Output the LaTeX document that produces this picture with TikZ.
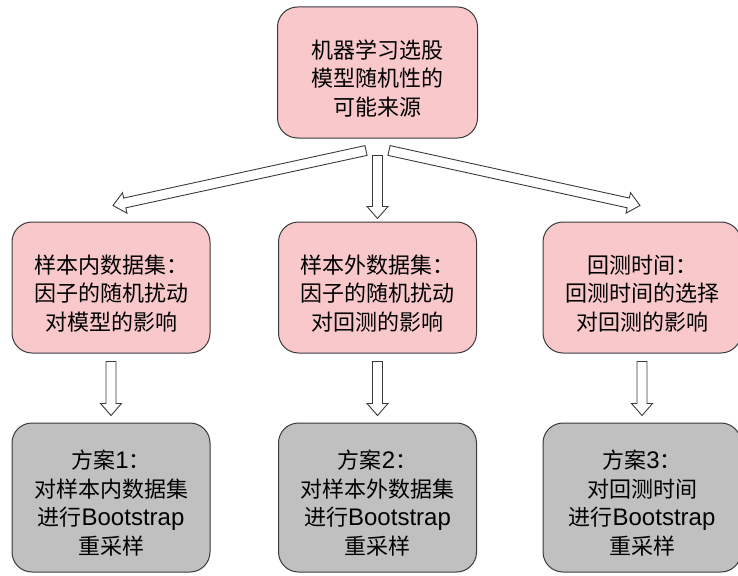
\documentclass[tikz,border=0pt]{standalone}
\usepackage{fontspec}
\setmainfont{Noto Sans CJK SC}
\newfontfamily\latinfont{Liberation Sans}
\usepackage{tikz}
\usetikzlibrary{calc,positioning}
\usepackage{xcolor}
\definecolor{causepink}{HTML}{F8C8CB}
\definecolor{plangray}{HTML}{C0C0C0}
\definecolor{edgegray}{HTML}{3A3A3A}
\tikzset{
    box/.style={
        draw=edgegray,
        line width=1pt,
        rounded corners=20pt,
        minimum width=198pt,
        minimum height=131pt,
        inner sep=0pt,
        align=center,
        font=\fontsize{22}{28.5}\selectfont
    },
    cause/.style={box, fill=causepink},
    plan/.style={box, fill=plangray, minimum height=149pt},
    arrowbody/.style={
        draw=edgegray,
        fill=white,
        line width=0.9pt,
        line join=miter
    }
}
\newcommand{\en}[1]{{\latinfont\fontsize{24}{28.5}\selectfont #1}}
\newcommand{\lift}{\rule{0pt}{30pt}}
% hollow block arrow between two named coordinates
\newcommand{\blockarrow}[2]{%
  \coordinate (ba-h) at ($(#2)!12pt!(#1)$);
  \draw[arrowbody] ($(#1)!5pt!90:(#2)$) -- ($(ba-h)!5pt!-90:(#1)$)
    -- ($(ba-h)!10.5pt!-90:(#1)$) -- (#2) -- ($(ba-h)!10.5pt!90:(#1)$)
    -- ($(ba-h)!5pt!90:(#1)$) -- ($(#1)!5pt!-90:(#2)$) -- cycle;}

\begin{document}
\begin{tikzpicture}[x=1pt, y=-1pt]
  \useasboundingbox (0,0) rectangle (738,575);

  % Source
  \node[cause, minimum width=200pt] (src) at (377.5,72.5) {\lift 机器学习选股\\模型随机性的\\可能来源};

  % Causes
  \node[cause] (cause1) at (111,287.5) {\lift 样本内数据集：\\因子的随机扰动\\对模型的影响};
  \node[cause] (cause2) at (377.5,287.5) {\lift 样本外数据集：\\因子的随机扰动\\对回测的影响};
  \node[cause] (cause3) at (642,287.5) {\lift 回测时间：\\回测时间的选择\\对回测的影响};

  % Plans
  \node[plan] (plan1) at (111,497.5) {\lift 方案\en{1}：\\对样本内数据集\\进行\en{Bootstrap}\\重采样};
  \node[plan] (plan2) at (377.5,497.5) {\lift 方案\en{2}：\\对样本外数据集\\进行\en{Bootstrap}\\重采样};
  \node[plan] (plan3) at (642,497.5) {\lift 方案\en{3}：\\对回测时间\\进行\en{Bootstrap}\\重采样};

  % Source to causes
  \coordinate (s1) at ($(src.south)+(-11.5,12)$);
  \coordinate (s2) at ($(src.south)+(0,17)$);
  \coordinate (s3) at ($(src.south)+(11.5,12)$);
  \coordinate (e1) at ($(cause1.north)+(2,-16)$);
  \coordinate (e2) at ($(cause2.north)+(0,-3)$);
  \coordinate (e3) at ($(cause3.north)+(-2,-16)$);
  \foreach \i in {1,2,3} {
    \blockarrow{s\i}{e\i}
  }

  % Causes to plans
  \foreach \i in {1,2,3} {
    \coordinate (t\i) at ($(cause\i.south)+(0,8)$);
    \coordinate (h\i) at ($(plan\i.north)+(0,-7)$);
    \blockarrow{t\i}{h\i}
  }
\end{tikzpicture}
\end{document}
